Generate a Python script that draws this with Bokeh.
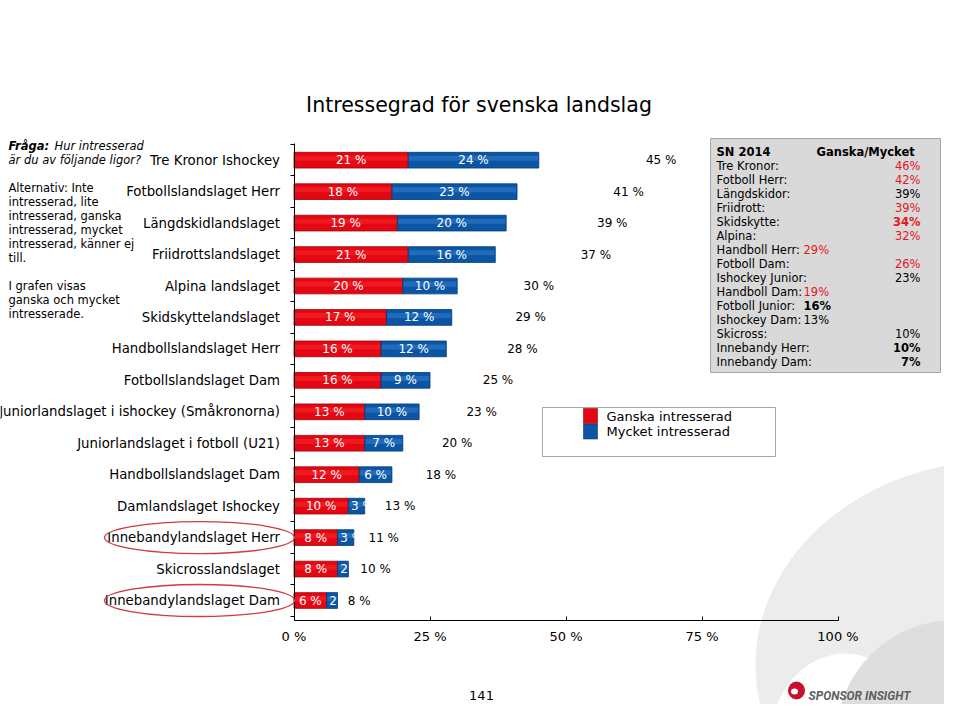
from bokeh.plotting import figure
from bokeh.models import Range1d, LinearAxis, FixedTicker, ColumnDataSource
from bokeh.core.properties import value
from bokeh.embed import file_html
from bokeh.resources import INLINE

# ---------------- data ----------------
categories = [
    "Tre Kronor Ishockey", "Fotbollslandslaget Herr", "Längdskidlandslaget",
    "Friidrottslandslaget", "Alpina landslaget", "Skidskyttelandslaget",
    "Handbollslandslaget Herr", "Fotbollslandslaget Dam",
    "Juniorlandslaget i ishockey (Småkronorna)", "Juniorlandslaget i fotboll (U21)",
    "Handbollslandslaget Dam", "Damlandslaget Ishockey", "Innebandylandslaget Herr",
    "Skicrosslandslaget", "Innebandylandslaget Dam",
]
ganska = [21, 18, 19, 21, 20, 17, 16, 16, 13, 13, 12, 10, 8, 8, 6]
mycket = [24, 23, 20, 16, 10, 12, 12, 9, 10, 7, 6, 3, 3, 2, 2]
series_names = ["Ganska intresserad", "Mycket intresserad"]
x_ticks = [0, 25, 50, 75, 100]
x_tick_labels = ["0 %", "25 %", "50 %", "75 %", "100 %"]
highlighted = ["Innebandylandslaget Herr", "Innebandylandslaget Dam"]

title_text = "Intressegrad för svenska landslag"
sn_title = "SN 2014"
sn_header = "Ganska/Mycket"
sn_labels = ["Tre Kronor:", "Fotboll Herr:", "Längdskidor:", "Friidrott:", "Skidskytte:",
             "Alpina:", "Handboll Herr:", "Fotboll Dam:", "Ishockey Junior:", "Handboll Dam:",
             "Fotboll Junior:", "Ishockey Dam:", "Skicross:", "Innebandy Herr:", "Innebandy Dam:"]
sn_values = [46, 42, 39, 39, 34, 32, 29, 26, 23, 19, 16, 13, 10, 10, 7]
# styling of the SN 2014 box entries
sn_red = [True, True, False, True, True, True, True, True, False, True, False, False, False, False, False]
sn_bold = [False, False, False, False, True, False, False, False, False, False, True, False, False, True, True]
sn_inline = [False, False, False, False, False, False, True, False, False, True, True, True, False, False, False]

totals = [g + m for g, m in zip(ganska, mycket)]

# ---------------- layout helpers (picture pixels -> data) ----------------
W, H = 944, 704
PX, PY = 0, 0
X0, XS = 293.5, 5.44      # picture x of 0 %, px per %
Y0, YS = 600.0, 31.45     # picture y of last row, px per row


def fx(px):
    return (px - X0) / XS


def fy(py):
    return (Y0 - py) / YS


def wx(w):
    return w / XS


def hy(h):
    return h / YS


RED = "#e30613"
RED_LINE = "#a50000"
BLUE = "#0b56a4"
BLUE_LINE = "#003a78"
FONT = "DejaVu Sans"

p = figure(width=W, height=H,
           x_range=Range1d(fx(PX), fx(PX + W)), y_range=Range1d(fy(PY + H), fy(PY)),
           x_axis_type=None, y_axis_type=None, toolbar_location=None,
           output_backend="svg", min_border=0, outline_line_color=None,
           background_fill_color="white", border_fill_color="white")


def txt(x, y, s, size, color="black", align="left", style="normal", font=FONT, level="glyph"):
    return p.text(x=[fx(x)], y=[fy(y)], text=[s], text_font=value(font), text_font_size=size,
                  text_color=color, text_align=align, text_baseline="middle",
                  text_font_style=style, level=level)


# ---------------- background watermark ----------------
p.ellipse(x=[fx(1000)], y=[fy(665)], width=[wx(490)], height=[hy(410)],
          fill_color="#ececec", line_color=None, level="image")
p.ellipse(x=[fx(845)], y=[fy(740)], width=[wx(150)], height=[hy(174)],
          fill_color="white", line_color=None, level="image")
p.ellipse(x=[fx(954)], y=[fy(738)], width=[wx(237)], height=[hy(237)],
          fill_color="#dedede", line_color=None, level="image")

# ---------------- bars ----------------
n = len(categories)
rows = [n - 1 - i for i in range(n)]
src = ColumnDataSource(dict(
    y=rows, g=ganska, m=mycket, tot=totals,
    gm=[g + m for g, m in zip(ganska, mycket)],
))
p.hbar(y="y", left=0, right="g", height=0.5, fill_color=RED, line_color=RED_LINE,
       line_width=0.8, source=src)
p.hbar(y="y", left="g", right="gm", height=0.5, fill_color=BLUE, line_color=BLUE_LINE,
       line_width=0.8, source=src)
# light highlight strip to mimic the gradient
p.hbar(y=[r + 0.06 for r in rows], left=[0.15] * n, right=[g - 0.15 for g in ganska],
       height=0.16, fill_color="#ff3030", fill_alpha=0.45, line_color=None)
p.hbar(y=[r + 0.06 for r in rows], left=[g + 0.15 for g in ganska],
       right=[t - 0.15 for t in totals], height=0.16, fill_color="#3a7fcf",
       fill_alpha=0.5, line_color=None)

# segment labels
seg_src = ColumnDataSource(dict(
    x=[g / 2 for g in ganska] + [g + (m / 2 if m >= 5 else 0.5) for g, m in zip(ganska, mycket)],
    y=rows + rows,
    t=[f"{g} %" for g in ganska] + [f"{m} %" for m in mycket],
    a=["center"] * n + [("center" if m >= 5 else "left") for m in mycket],
))
p.text(x="x", y="y", text="t", text_align="a", text_baseline="middle",
       text_color="white", text_font=value(FONT), text_font_size="12px", source=seg_src)

# totals
p.text(x=[1.5 * t for t in totals], y=rows, text=[f"{t} %" for t in totals],
       text_align="center", text_baseline="middle", text_color="black",
       text_font=value(FONT), text_font_size="12px")

# ---------------- axes ----------------
yaxis = LinearAxis(fixed_location=0, bounds=(fy(620), fy(143)),
                   ticker=FixedTicker(ticks=rows, minor_ticks=[r - 0.5 for r in rows] + [n - 0.5]),
                   major_label_overrides={r: c for r, c in zip(rows, categories)},
                   major_tick_in=0, major_tick_out=0, minor_tick_in=0, minor_tick_out=4,
                   minor_tick_line_color="black", major_label_standoff=10,
                   major_label_text_font=FONT, major_label_text_font_size="13.3px",
                   major_label_text_color="black", axis_line_color="black")
p.add_layout(yaxis, "left")

xaxis = LinearAxis(fixed_location=fy(620), bounds=(0, 100),
                   ticker=FixedTicker(ticks=x_ticks),
                   major_label_overrides={t: l for t, l in zip(x_ticks, x_tick_labels)},
                   major_tick_in=4, major_tick_out=0, minor_tick_in=0, minor_tick_out=0,
                   major_label_standoff=8, major_label_text_font=FONT,
                   major_label_text_font_size="13px", major_label_text_color="black",
                   axis_line_color="black", major_tick_line_color="black")
p.add_layout(xaxis, "below")

# ---------------- highlight ellipses ----------------
hl_rows = [rows[categories.index(c)] for c in highlighted]
p.ellipse(x=[fx(199)] * len(hl_rows), y=hl_rows, width=[wx(190)] * len(hl_rows),
          height=[hy(32)] * len(hl_rows), fill_color=None, line_color="#d03a44",
          line_width=1.3, level="overlay")

# ---------------- title ----------------
txt(478.5, 104, title_text, "20.5px", align="center")

# ---------------- left question text ----------------
txt(8, 145, "Fråga:", "11.5px", style="bold italic")
txt(54, 145, "Hur intresserad", "11.5px", style="italic")
txt(8, 159, "är du av följande ligor?", "11.5px", style="italic")
left_lines = ["Alternativ: Inte", "intresserad, lite", "intresserad, ganska",
              "intresserad, mycket", "intresserad, känner ej", "till."]
for j, s in enumerate(left_lines):
    txt(8, 187 + j * 14.1, s, "11.5px")
for j, s in enumerate(["I grafen visas", "ganska och mycket", "intresserade."]):
    txt(8, 285 + j * 14.1, s, "11.5px")

# ---------------- legend ----------------
p.rect(x=[fx(658.5)], y=[fy(431.5)], width=[wx(233)], height=[hy(49)],
       fill_color="white", line_color="#a6a6a6", line_width=1)
p.rect(x=[fx(590), fx(590)], y=[fy(415.5), fy(431)], width=[wx(14)] * 2, height=[hy(15)] * 2,
       fill_color=[RED, BLUE], line_color=[RED_LINE, BLUE_LINE], line_width=0.6)
txt(606, 416, series_names[0], "13px")
txt(606, 431, series_names[1], "13px")

# ---------------- SN 2014 box ----------------
p.rect(x=[fx(825)], y=[fy(255)], width=[wx(230)], height=[hy(234)],
       fill_color="#d9d9d9", line_color="#a6a6a6", line_width=1)
txt(716, 151, sn_title, "11.5px", style="bold")
txt(816, 151, sn_header, "11.5px", style="bold")
for j, (lab, v) in enumerate(zip(sn_labels, sn_values)):
    yy = 165 + j * 14.05
    txt(716, yy, lab, "11.5px")
    col = "#e3161d" if sn_red[j] else "black"
    sty = "bold" if sn_bold[j] else "normal"
    if sn_inline[j]:
        txt(803, yy, f"{v}%", "11.5px", color=col, style=sty)
    else:
        txt(920, yy, f"{v}%", "11.5px", color=col, style=sty, align="right")

# ---------------- footer ----------------
txt(481, 695, "141", "13px", align="center")
p.ellipse(x=[fx(796)], y=[fy(690)], width=[wx(17)], height=[hy(18)],
          fill_color="#c8102e", line_color=None)
p.ellipse(x=[fx(794)], y=[fy(691)], width=[wx(7)], height=[hy(6)],
          fill_color="white", line_color=None)
txt(808, 695, "SPONSOR INSIGHT", "12px", color="#5f5f5f", style="bold italic", font="Roboto")

open("out.html", "w").write(file_html(p, INLINE))
